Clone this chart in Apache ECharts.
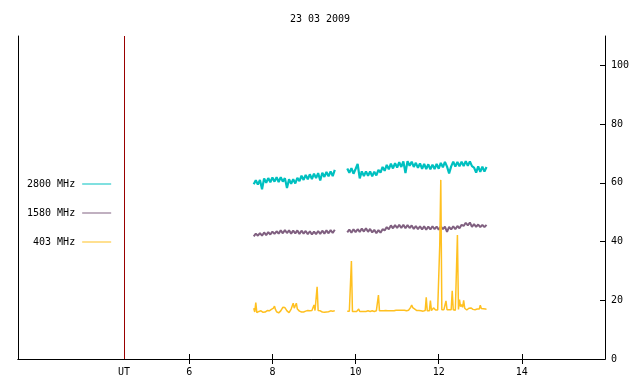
<!DOCTYPE html>
<html>
<head>
<meta charset="utf-8">
<title>23 03 2009</title>
<script src="https://cdn.jsdelivr.net/npm/echarts@6/dist/echarts.min.js"></script>
<style>
  html, body { margin: 0; padding: 0; background: #fff; }
  #chart { width: 640px; height: 384px; }
</style>
</head>
<body>
<div id="chart"></div>
<script>
// sampling of the radio flux records (hours UT)
const fluxStart = 7.55;
const fluxStep = 0.05;   // 2800 and 1580 MHz
const goldStep = 0.025;  // 403 MHz, finer so the bursts stay narrow

const utHour = 4.43;
const tickHours = [6, 8, 10, 12, 14];
const labelHours = [utHour, 6, 8, 10, 12, 14];
const fluxTicks = [0, 20, 40, 60, 80, 100];

const seriesNames = ['2800 MHz', '1580 MHz', '403 MHz'];

const flux2800 = [
  59.5, 60.9, 59.4, 61.0, 57.8, 61.5, 60.0, 61.6, 60.2, 61.8,
  60.4, 61.9, 60.3, 61.9, 60.4, 61.6, 58.2, 61.2, 59.7, 61.2,
  59.8, 61.7, 60.6, 62.4, 61.0, 62.7, 61.2, 62.9, 61.3, 63.1,
  61.6, 63.3, 60.8, 63.4, 62.0, 63.7, 62.2, 63.9, 62.3, 64.4,
  null, null, null, null, null,
  64.9, 63.4, 65.0, 63.1, 64.7, 66.4, 61.5, 63.9, 62.3, 63.9,
  62.4, 63.9, 62.2, 63.8, 62.5, 64.4, 63.5, 65.4, 64.1, 66.1,
  64.6, 66.5, 64.9, 66.7, 65.2, 67.0, 65.4, 67.3, 63.3, 67.4,
  65.8, 67.2, 65.4, 66.8, 65.1, 66.6, 64.8, 66.4, 64.7, 66.3,
  64.6, 66.2, 64.7, 66.4, 64.8, 66.8, 65.3, 67.1, 65.5, 63.2,
  65.6, 67.2, 65.5, 67.1, 65.6, 67.2, 65.7, 67.4, 65.8, 67.3,
  65.7, 65.2, 63.5, 65.6, 63.7, 65.5, 63.8, 65.4
];

const flux1580 = [
  41.8, 42.7, 42.0, 42.9, 42.0, 43.1, 42.2, 43.2, 42.4, 43.4,
  42.6, 43.5, 42.7, 43.8, 42.8, 43.9, 42.9, 43.8, 42.7, 43.7,
  42.8, 43.8, 42.6, 43.7, 42.7, 43.6, 42.5, 43.5, 42.4, 43.4,
  42.5, 43.6, 42.6, 43.7, 42.7, 43.8, 42.8, 43.9, 42.9, 44.0,
  null, null, null, null, null,
  43.1, 44.1, 43.0, 44.2, 43.2, 44.2, 43.3, 44.4, 43.4, 44.5,
  43.3, 44.3, 43.1, 44.0, 42.8, 43.9, 43.0, 44.2, 43.8, 44.9,
  44.2, 45.5, 44.5, 45.6, 44.6, 45.7, 44.6, 45.7, 44.5, 45.6,
  44.6, 45.5, 44.3, 45.3, 44.2, 45.2, 44.1, 45.2, 44.0, 45.1,
  44.1, 45.2, 44.2, 45.1, 44.0, 45.2, 44.2, 45.1, 43.3, 45.0,
  44.1, 45.2, 44.2, 45.3, 44.5, 45.7, 45.3, 46.4, 45.5, 46.5,
  45.0, 45.9, 45.0, 45.8, 44.9, 45.7, 44.9, 45.7
];

const flux403 = [
  17.3, 16.0, 19.2, 15.8, 15.8, 16.2, 16.5, 16.4, 16.2, 15.9,
  15.8, 16.0, 16.3, 16.5, 16.5, 16.4, 16.6, 16.9, 17.1, 17.3,
  18.0, 16.8, 16.1, 15.8, 15.7, 15.9, 16.4, 17.0, 17.6, 17.8,
  17.5, 17.0, 16.4, 15.9, 15.8, 16.3, 17.0, 17.6, 19.0, 17.3,
  17.5, 19.0, 17.0, 16.6, 16.3, 16.0, 16.0, 16.0, 16.0, 16.1,
  16.3, 16.4, 16.5, 16.5, 16.4, 16.5, 16.5, 16.4, 18.4, 16.5,
  16.4, 24.6, 16.5, 16.5, 16.4, 16.2, 16.0, 15.9, 15.9, 15.9,
  16.0, 15.9, 16.1, 16.3, 16.4, 16.4, 16.3, 16.5, 16.4,
  null, null, null, null, null, null, null, null, null, null, null,
  16.3, 16.2, 16.3, 16.2, 33.4, 16.2, 16.3, 16.2, 16.8, 16.2,
  16.2, 17.0, 16.2, 16.3, 16.2, 16.0, 16.2, 16.3, 16.2, 16.3,
  16.4, 16.3, 16.2, 16.3, 16.4, 16.3, 16.2, 16.3, 16.4, 16.3,
  21.8, 16.4, 16.5, 16.4, 16.5, 16.4, 16.4, 16.5, 16.4, 16.4,
  16.5, 16.4, 16.5, 16.4, 16.5, 16.4, 16.5, 16.6, 16.5, 16.6,
  16.5, 16.6, 16.5, 16.6, 16.5, 16.6, 16.5, 16.4, 16.5, 16.6,
  17.2, 17.6, 18.4, 17.5, 17.4, 17.0, 16.6, 16.5, 16.4, 16.5,
  16.3, 16.4, 16.5, 16.3, 16.4, 16.5, 21.0, 16.4, 16.3, 16.4,
  19.9, 16.5, 16.8, 17.4, 17.0, 16.7, 16.6, 16.7, 16.8, 38.8,
  61.0, 16.8, 16.7, 16.8, 16.7, 19.8, 16.8, 16.7, 16.8, 16.7,
  16.8, 23.2, 16.8, 16.7, 16.6, 16.8, 42.2, 16.9, 20.2, 17.8,
  18.6, 17.6, 20.0, 17.3, 16.9, 16.7, 16.6, 17.3, 17.5, 17.4,
  17.5, 16.9, 16.7, 16.8, 16.7, 17.0, 17.3, 17.0, 18.3, 17.2,
  16.9, 17.1, 16.8, 17.0, 16.9
];

const FONT = '"DejaVu Sans Mono", monospace';
const colors = ['#00c0c0', '#806080', '#ffc020'];

// pair each sample with its time
const withHours = (values, step) =>
  values.map((v, i) => [+(fluxStart + i * step).toFixed(3), v]);

const chart = echarts.init(document.getElementById('chart'));

// the records are sampled much denser than a pixel, so the noisy
// channels read as a solid band: a wider stroke stands in for that
const lineSeries = (name, values, step, color, width) => ({
  name: name,
  type: 'line',
  data: withHours(values, step),
  showSymbol: false,
  symbol: 'none',
  connectNulls: false,
  lineStyle: {width: width, color: color},
  itemStyle: {color: color},
  emphasis: {disabled: true}
});

const series = [
  lineSeries(seriesNames[0], flux2800, fluxStep, colors[0], 2.2),
  lineSeries(seriesNames[1], flux1580, fluxStep, colors[1], 2),
  lineSeries(seriesNames[2], flux403, goldStep, colors[2], 1.5)
];

// UT marker
series[0].markLine = {
  silent: true,
  symbol: 'none',
  label: {show: false},
  lineStyle: {color: '#990000', width: 1, type: 'solid'},
  data: [{xAxis: utHour}]
};

const axisText = {color: '#000', fontFamily: FONT, fontSize: 10};

chart.setOption({
  animation: false,
  backgroundColor: '#fff',
  textStyle: axisText,
  title: {
    text: '23 03 2009',
    left: 'center',
    top: 9,
    textStyle: {color: '#000', fontFamily: FONT, fontSize: 10, fontWeight: 'normal'}
  },
  legend: {
    data: seriesNames.map(n => ({name: n, itemStyle: {borderWidth: 0}})),
    orient: 'vertical',
    align: 'right',
    left: 27,
    top: 179,
    padding: 0,
    itemGap: 19,
    itemWidth: 29,
    itemHeight: 1,
    icon: 'rect',
    selectedMode: false,
    textStyle: {color: '#000', fontFamily: FONT, fontSize: 10, padding: [0, 2, 0, 0]}
  },
  grid: {left: 18, right: 35, top: 36, bottom: 25},
  xAxis: [
    {
      type: 'value',
      min: 1.88,
      max: 16,
      position: 'bottom',
      axisLine: {show: true, lineStyle: {color: '#000', width: 1}},
      splitLine: {show: false},
      axisTick: {inside: true, length: 5, customValues: tickHours, lineStyle: {color: '#000'}},
      axisLabel: Object.assign({
        customValues: labelHours,
        margin: 8,
        formatter: v => (Math.abs(v - utHour) < 1e-6 ? 'UT' : String(v))
      }, axisText)
    },
    {
      type: 'value',
      min: 1.88,
      max: 16,
      position: 'top',
      axisLine: {show: true, lineStyle: {color: '#000', width: 1}},
      splitLine: {show: false},
      axisTick: {inside: true, length: 5, customValues: tickHours, lineStyle: {color: '#000'}},
      axisLabel: {show: false}
    }
  ],
  yAxis: [
    {
      type: 'value',
      min: 0,
      max: 110,
      position: 'right',
      axisLine: {show: true, lineStyle: {color: '#000', width: 1}},
      splitLine: {show: false},
      axisTick: {inside: true, length: 5, customValues: fluxTicks, lineStyle: {color: '#000'}},
      axisLabel: Object.assign({customValues: fluxTicks, margin: 6}, axisText)
    },
    {
      type: 'value',
      min: 0,
      max: 110,
      position: 'left',
      axisLine: {show: true, lineStyle: {color: '#000', width: 1}},
      splitLine: {show: false},
      axisTick: {show: false},
      axisLabel: {show: false}
    }
  ],
  series: series
});
</script>
</body>
</html>
